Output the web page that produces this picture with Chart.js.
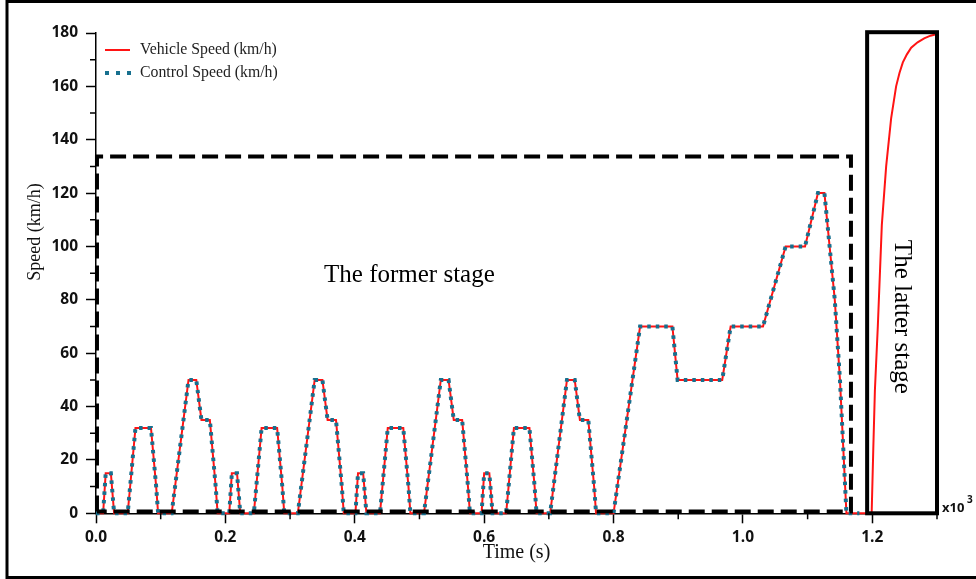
<!DOCTYPE html>
<html lang="en">
<head>
<meta charset="UTF-8">
<title>Vehicle Speed vs Control Speed</title>
<script src="https://cdn.jsdelivr.net/npm/chart.js"></script>
<style>
  html, body { margin: 0; padding: 0; background: #fff; }
  #wrap { position: relative; width: 976px; height: 579px; }
</style>
</head>
<body>
<div id="wrap"><canvas id="speedChart" width="976" height="579"></canvas></div>
<script>
// time in 10^3 s, speed in km/h (former stage: 4 urban cycles + extra-urban part)
const formerTime = [
  0.000, 0.011, 0.015, 0.023, 0.028, 0.049, 0.061, 0.085, 0.093, 0.096, 0.117, 0.143, 0.155, 0.163, 0.176, 0.185, 0.188,
  0.206, 0.210, 0.218, 0.223, 0.244, 0.256, 0.280, 0.288, 0.291, 0.312, 0.338, 0.350, 0.358, 0.371, 0.380, 0.383,
  0.401, 0.405, 0.413, 0.418, 0.439, 0.451, 0.475, 0.483, 0.486, 0.507, 0.533, 0.545, 0.553, 0.566, 0.575, 0.578,
  0.596, 0.600, 0.608, 0.613, 0.634, 0.646, 0.670, 0.678, 0.681, 0.702, 0.728, 0.740, 0.748, 0.761, 0.770, 0.773,
  0.800, 0.841, 0.891, 0.899, 0.968, 0.981, 1.031, 1.066, 1.096, 1.116, 1.126, 1.142, 1.150, 1.160, 1.180
];
const formerSpeed = [
  0, 0, 15, 15, 0, 0, 32, 32, 10, 0, 0, 50, 50, 35, 35, 10, 0,
  0, 15, 15, 0, 0, 32, 32, 10, 0, 0, 50, 50, 35, 35, 10, 0,
  0, 15, 15, 0, 0, 32, 32, 10, 0, 0, 50, 50, 35, 35, 10, 0,
  0, 15, 15, 0, 0, 32, 32, 10, 0, 0, 50, 50, 35, 35, 10, 0,
  0, 70, 70, 50, 50, 70, 70, 100, 100, 120, 120, 80, 50, 0, 0
];
// latter stage: only the vehicle speed is shown
const latterTime = [1.199, 1.2015, 1.204, 1.2085, 1.2147, 1.2214, 1.2291, 1.2368, 1.242, 1.2472, 1.2535, 1.2601, 1.270, 1.2802, 1.290, 1.300];
const latterSpeed = [0, 24, 46, 70, 108, 130, 148, 160, 165, 169, 172, 174.5, 176.5, 178, 179, 179.6];

const xTickValues = [0, 0.2, 0.4, 0.6, 0.8, 1.0, 1.2];
const xMinorValues = [0.1, 0.3, 0.5, 0.7, 0.9, 1.1, 1.3];
const yMinorValues = [10, 30, 50, 70, 90, 110, 130, 150, 170];

const controlPts = formerTime.map((t, i) => ({ x: t, y: formerSpeed[i] }));
const vehiclePts = controlPts.concat(latterTime.map((t, i) => ({ x: t, y: latterSpeed[i] })));

const serif = '"Liberation Serif", "Times New Roman", serif';

const overlay = {
  id: 'overlay',
  afterDatasetsDraw(chart) {
    const { ctx, scales: { x, y } } = chart;
    ctx.save();
    // former stage dashed box
    ctx.strokeStyle = '#000';
    ctx.lineWidth = 4;
    ctx.setLineDash([16, 7]);
    const fx0 = x.getPixelForValue(0.0015), fx1 = x.getPixelForValue(1.167);
    const fy0 = y.getPixelForValue(0.7), fy1 = y.getPixelForValue(133.7);
    ctx.beginPath();
    ctx.moveTo(fx0, fy0); ctx.lineTo(fx0, fy1); ctx.lineTo(fx1, fy1); ctx.lineTo(fx1, fy0); ctx.lineTo(fx0, fy0);
    ctx.stroke();
    // latter stage solid box
    ctx.setLineDash([]);
    const lx0 = x.getPixelForValue(1.192), lx1 = x.getPixelForValue(1.3);
    const ly0 = y.getPixelForValue(0), ly1 = y.getPixelForValue(180.3);
    ctx.strokeRect(lx0, ly1, lx1 - lx0, ly0 - ly1);

    ctx.fillStyle = '#000';
    ctx.font = '25px ' + serif;
    ctx.textAlign = 'center';
    ctx.textBaseline = 'alphabetic';
    ctx.fillText('The former stage', x.getPixelForValue(0.4845), y.getPixelForValue(86.7));
    ctx.save();
    ctx.translate(x.getPixelForValue(1.2446), y.getPixelForValue(73.6));
    ctx.rotate(Math.PI / 2);
    ctx.textBaseline = 'middle';
    ctx.fillText('The latter stage', 0, 0);
    ctx.restore();
    ctx.restore();
  },
  afterDraw(chart) {
    const { ctx, chartArea: a, scales: { x, y } } = chart;
    ctx.save();
    // minor ticks
    ctx.strokeStyle = '#000';
    ctx.lineWidth = 1.5;
    ctx.beginPath();
    yMinorValues.forEach(v => { const p = y.getPixelForValue(v); ctx.moveTo(a.left - 6, p); ctx.lineTo(a.left, p); });
    xMinorValues.forEach(v => { const p = x.getPixelForValue(v); ctx.moveTo(p, a.bottom); ctx.lineTo(p, a.bottom + 6); });
    ctx.stroke();

    // axis titles
    ctx.fillStyle = '#111';
    ctx.font = '20px ' + serif;
    ctx.textAlign = 'center';
    ctx.textBaseline = 'middle';
    ctx.fillText('Time (s)', (a.left + a.right) / 2, 553);
    ctx.save();
    ctx.translate(35, 232);
    ctx.rotate(-Math.PI / 2);
    ctx.font = '18px ' + serif;
    ctx.fillText('Speed (km/h)', 0, 0);
    ctx.restore();

    // x10^3 multiplier
    ctx.font = 'bold 13px "Open Sans", sans-serif';
    ctx.textAlign = 'left';
    ctx.textBaseline = 'alphabetic';
    ctx.fillText('x10', 942, 512);
    ctx.font = 'bold 10px "Open Sans", sans-serif';
    ctx.fillText('3', 967, 503);

    // legend
    const ds = chart.data.datasets;
    ctx.font = '15.8px ' + serif;
    ctx.textBaseline = 'middle';
    ctx.fillStyle = '#222';
    ctx.strokeStyle = ds[0].borderColor;
    ctx.lineWidth = 2;
    ctx.beginPath(); ctx.moveTo(105, 50); ctx.lineTo(130, 50); ctx.stroke();
    ctx.fillText(ds[0].label, 140, 50);
    ctx.fillStyle = ds[1].borderColor;
    [107, 118, 129].forEach(px => ctx.fillRect(px - 2, 71, 4, 4));
    ctx.fillStyle = '#222';
    ctx.fillText(ds[1].label, 140, 73);

    // outer frame
    ctx.strokeStyle = '#000';
    ctx.lineWidth = 3;
    ctx.beginPath();
    ctx.moveTo(990, 1.5); ctx.lineTo(7, 1.5); ctx.lineTo(7, 577.5); ctx.lineTo(990, 577.5);
    ctx.stroke();
    ctx.restore();
  }
};

new Chart(document.getElementById('speedChart'), {
  type: 'line',
  data: {
    datasets: [
      {
        label: 'Vehicle Speed (km/h)',
        data: vehiclePts,
        borderColor: '#ff1414',
        borderWidth: 2,
        pointRadius: 0,
        tension: 0,
        fill: false,
        order: 2,
        clip: 4
      },
      {
        label: 'Control Speed (km/h)',
        data: controlPts,
        borderColor: '#17708f',
        borderWidth: 4,
        borderDash: [3.5, 5],
        pointRadius: 0,
        tension: 0,
        fill: false,
        order: 1,
        clip: 4
      }
    ]
  },
  options: {
    responsive: false,
    animation: false,
    layout: { padding: { left: 0, right: 39, top: 33, bottom: 0 } },
    plugins: { legend: { display: false }, tooltip: { enabled: false } },
    scales: {
      x: {
        type: 'linear',
        min: 0,
        max: 1.3,
        afterBuildTicks: s => { s.ticks = xTickValues.map(v => ({ value: v })); },
        afterFit: s => { s.height = 65.7; },
        border: { color: '#000', width: 1.5 },
        grid: { drawOnChartArea: false, tickLength: 10, tickColor: '#000', tickWidth: 1.5 },
        ticks: {
          padding: 5,
          maxRotation: 0,
          autoSkip: false,
          color: '#111',
          font: { family: 'Open Sans', weight: 'bold', size: 15.5 },
          callback: v => Number(v).toFixed(1)
        }
      },
      y: {
        min: 0,
        max: 180,
        afterFit: s => { s.width = 96; },
        border: { color: '#000', width: 1.5 },
        grid: { drawOnChartArea: false, tickLength: 10, tickColor: '#000', tickWidth: 1.5 },
        ticks: {
          stepSize: 20,
          padding: 8,
          color: '#111',
          font: { family: 'Open Sans', weight: 'bold', size: 15.5 }
        }
      }
    }
  },
  plugins: [overlay]
});
</script>
</body>
</html>
